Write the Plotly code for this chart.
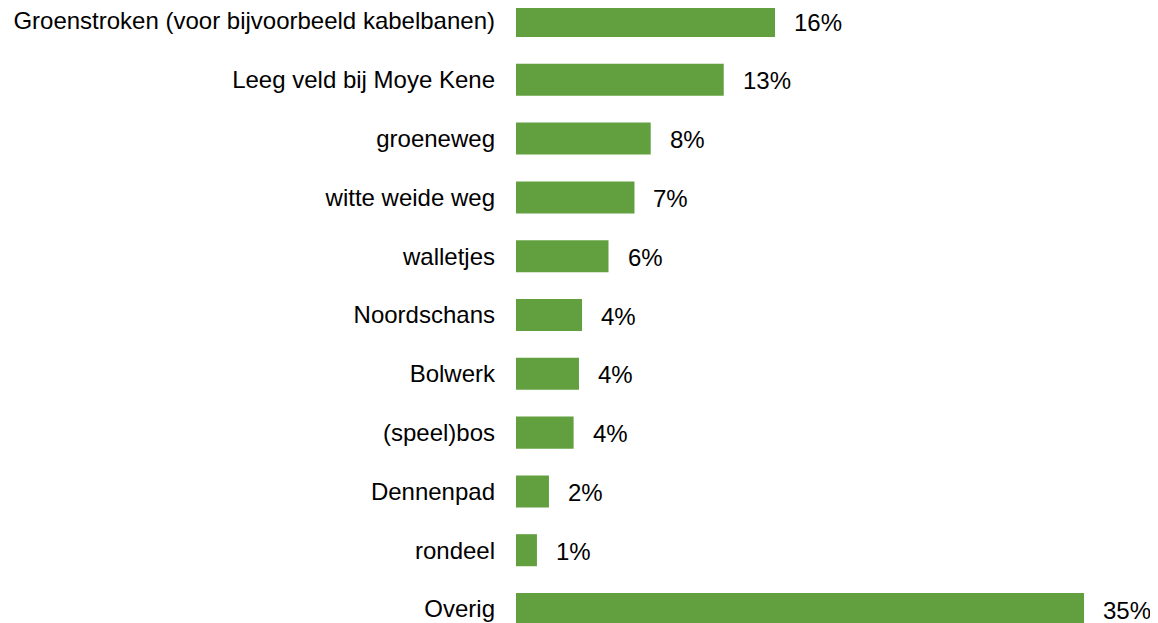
import plotly.graph_objects as go

categories = ["Groenstroken (voor bijvoorbeeld kabelbanen)", "Leeg veld bij Moye Kene",
              "groeneweg", "witte weide weg", "walletjes", "Noordschans", "Bolwerk",
              "(speel)bos", "Dennenpad", "rondeel", "Overig"]
values = [15.96, 12.8, 8.3, 7.3, 5.7, 4.07, 3.88, 3.55, 2.03, 1.29, 35.0]
value_labels = ["16%", "13%", "8%", "7%", "6%", "4%", "4%", "4%", "2%", "1%", "35%"]

FONT = "Liberation Sans, Arial, sans-serif"
GREEN = "#62a03f"

fig = go.Figure(go.Bar(
    x=values, y=categories, orientation="h",
    marker=dict(color=GREEN, line=dict(width=0)),
    width=0.545, hoverinfo="skip",
))

for c, v, t in zip(categories, values, value_labels):
    fig.add_annotation(x=v, y=c, text=t, showarrow=False, xanchor="left",
                       xshift=17, yshift=-1, font=dict(family=FONT, size=24, color="#000000"))

fig.update_layout(
    width=1158, height=623,
    margin=dict(l=508, r=0, t=0, b=0),
    paper_bgcolor="white", plot_bgcolor="white",
    showlegend=False,
    xaxis=dict(range=[0, 40.05], visible=False, fixedrange=True),
    yaxis=dict(categoryorder="array", categoryarray=categories,
               range=[10.374, -0.221], showgrid=False, zeroline=False,
               showline=False, ticks="", ticklabelstandoff=20,
               tickfont=dict(family=FONT, size=24, color="#000000")),
    font=dict(family=FONT),
)

fig.write_html("out.html")
